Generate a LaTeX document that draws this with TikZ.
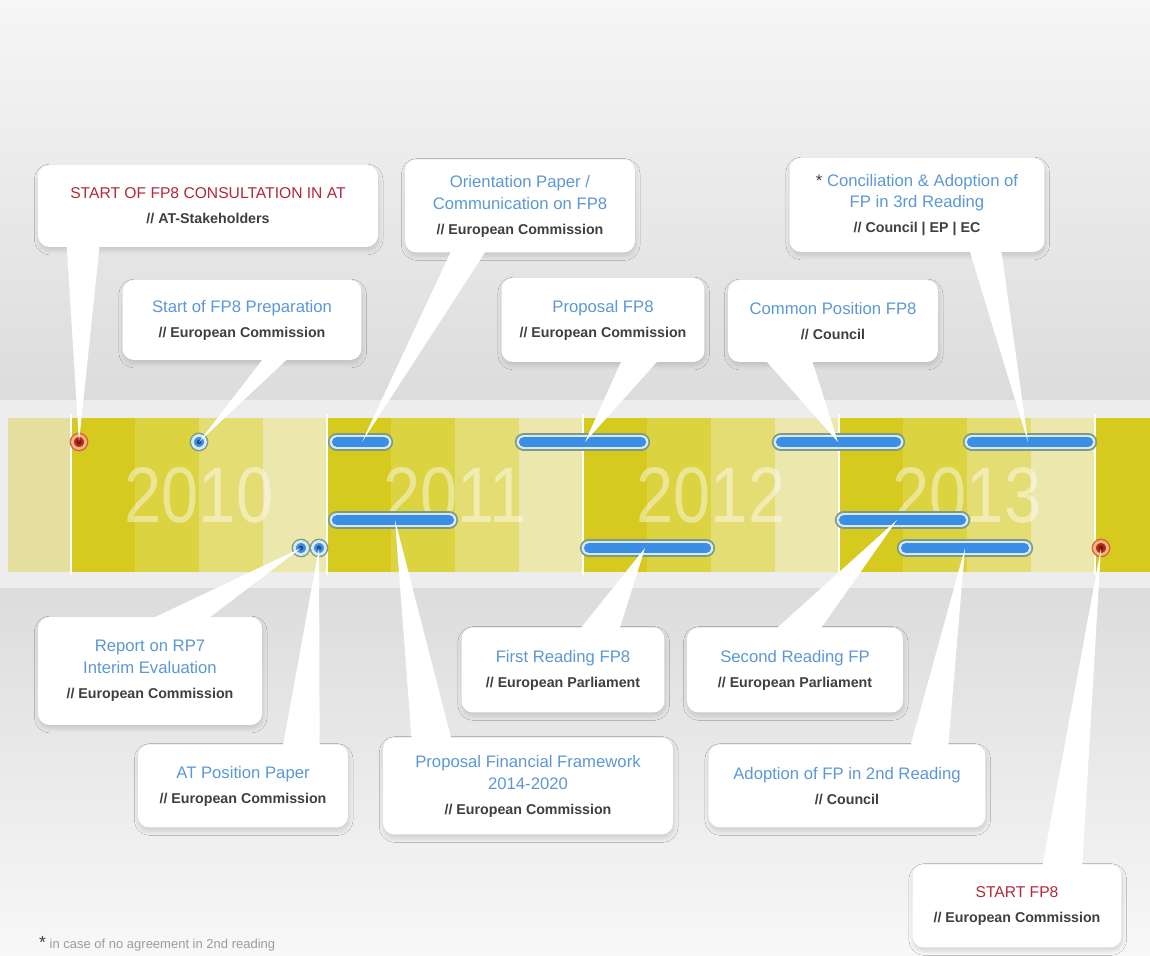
\documentclass[tikz,border=0pt]{standalone}
\usepackage{fontspec}
\setmainfont{Liberation Sans}
\usepackage{graphicx}
\usetikzlibrary{calc,shadows.blur}

\definecolor{evblue}{HTML}{5B98D6}
\definecolor{evred}{HTML}{B3283C}
\definecolor{subgray}{HTML}{3F3F3F}
\definecolor{footgray}{HTML}{9C9C9C}
\definecolor{bgtop}{HTML}{F6F6F6}
\definecolor{bgmid}{HTML}{DCDCDC}
\definecolor{bgbot}{HTML}{F8F8F8}
\definecolor{strip}{HTML}{EDEDED}
\definecolor{quarterA}{HTML}{D6CA1E}
\definecolor{quarterB}{HTML}{DCD340}
\definecolor{quarterC}{HTML}{E4DD74}
\definecolor{quarterD}{HTML}{ECE7AC}
\definecolor{paleyellow}{HTML}{E4DF9F}
\definecolor{barblue}{HTML}{3A8EE6}
\definecolor{barpale}{HTML}{D6EAF0}
\definecolor{barrim}{HTML}{7E9A87}
\definecolor{dotred}{HTML}{B52A14}
\definecolor{dotpale}{HTML}{F2B48C}
\definecolor{dotrim}{HTML}{D9642E}

\newcommand{\evsub}{\fontsize{8.1}{12.5}\selectfont\bfseries\color{subgray}}

\tikzset{
  evbox/.style={rectangle, rounded corners=6.5pt, fill=white, inner sep=0pt, align=center,
    font=\fontsize{9.5}{12.5}\selectfont, text=evblue,
    blur shadow={shadow blur steps=8, shadow xshift=0.4pt, shadow yshift=-2pt,
      shadow blur radius=2.5pt, shadow opacity=14}},
  wedge/.style={fill=white},
  fpbar/.style={line cap=round, line width=5.8pt, draw=barblue,
    preaction={draw=barrim, line width=10.4pt, line cap=round},
    preaction={draw=barpale, line width=8.4pt, line cap=round}},
  bluedot/.style={circle, inner sep=0pt, minimum size=0.26cm, fill=barblue, draw=barpale,
    line width=1.6pt, preaction={draw=barrim, line width=3.2pt},
    path picture={\fill[barblue!55!black] (path picture bounding box.center) circle (1.3pt);}},
  reddot/.style={circle, inner sep=0pt, minimum size=0.26cm, fill=dotred, draw=dotpale,
    line width=1.6pt, preaction={draw=dotrim, line width=3.2pt},
    path picture={\fill[dotred!60!black] (path picture bounding box.center) circle (1.3pt);}},
  yearlbl/.style={text=white, text opacity=0.45, font=\fontsize{38}{38}\selectfont}
}

\begin{document}
\begin{tikzpicture}[x=0.02cm, y=-0.02cm]
\useasboundingbox (0,0) rectangle (1150,956);

% Background
\shade[top color=bgtop, bottom color=bgmid] (0,0) rectangle (1150,400);
\fill[strip] (0,400) rectangle (1150,588);
\shade[top color=bgmid, bottom color=bgbot] (0,588) rectangle (1150,956);

% Timeline band
\fill[paleyellow] (8,418) rectangle (71,572);
\fill[quarterA] (1095,418) rectangle (1150,572);
\foreach \s/\yr in {71/2010, 327/2011, 583/2012, 839/2013} {
  \fill[quarterA] (\s,418) rectangle ++(64,154);
  \fill[quarterB] (\s+64,418) rectangle ++(64,154);
  \fill[quarterC] (\s+128,418) rectangle ++(64,154);
  \fill[quarterD] (\s+192,418) rectangle ++(64,154);
  \node[yearlbl] (y\yr) at (\s+128,495) {\scalebox{1}[1.18]{\yr}};
}
\foreach \s in {71,327,583,839,1095}
  \draw[white, line width=1.4pt] (\s,414) -- (\s,575);

% Bars
\draw[fpbar] (337,442) -- (384,442);   % orientation paper
\draw[fpbar] (337,520) -- (449,520);   % financial framework
\draw[fpbar] (524,442) -- (641,442);   % proposal FP8
\draw[fpbar] (589,548) -- (706,548);   % first reading
\draw[fpbar] (781,442) -- (896,442);   % common position
\draw[fpbar] (844,520) -- (961,520);   % second reading
\draw[fpbar] (972,442) -- (1088,442);  % conciliation
\draw[fpbar] (906,548) -- (1024,548);  % adoption 2nd reading
\coordinate (aOrient) at (362,442);
\coordinate (aFinfw) at (395,520);
\coordinate (aPropFP) at (585,442);
\coordinate (aFirst) at (645,548);
\coordinate (aCommon) at (838,442);
\coordinate (aSecond) at (897,520);
\coordinate (aConcil) at (1028,442);
\coordinate (aAdopt) at (965,548);

% Dots
\node[reddot] (dConsult) at (79,442) {};
\node[bluedot] (dPrep) at (199,442) {};
\node[bluedot] (dReport) at (301,548) {};
\node[bluedot] (dATpos) at (319,548) {};
\node[reddot] (dStart) at (1101,548) {};

% Boxes above the band
\node[evbox, text=evred, font=\fontsize{8.9}{12.5}\selectfont, minimum width=6.8cm, minimum height=1.64cm] (consult) at (208,206)
  {START OF FP8 CONSULTATION IN AT\\[1.7pt]{\evsub // AT-Stakeholders}};
\node[evbox, minimum width=4.78cm, minimum height=1.6cm] (prep) at (242,320)
  {Start of FP8 Preparation\\[1.7pt]{\evsub // European Commission}};
\node[evbox, minimum width=4.6cm, minimum height=1.86cm] (orient) at (520,206)
  {Orientation Paper /\\Communication on FP8\\[1.7pt]{\evsub // European Commission}};
\node[evbox, minimum width=4.06cm, minimum height=1.68cm] (propFP) at (603,320)
  {Proposal FP8\\[1.7pt]{\evsub // European Commission}};
\node[evbox, minimum width=4.2cm, minimum height=1.64cm] (common) at (833,321)
  {Common Position FP8\\[1.7pt]{\evsub // Council}};
\node[evbox, minimum width=5.1cm, minimum height=1.88cm] (concil) at (917,205)
  {{\color{subgray}*} Conciliation \& Adoption of\\FP in 3rd Reading\\[1.7pt]{\evsub // Council | EP | EC}};

% Boxes below the band
\node[evbox, minimum width=4.48cm, minimum height=2.16cm] (report) at (150,671)
  {Report on RP7\\Interim Evaluation\\[1.7pt]{\evsub // European Commission}};
\node[evbox, minimum width=4.2cm, minimum height=1.66cm] (atpos) at (243,786)
  {AT Position Paper\\[1.7pt]{\evsub // European Commission}};
\node[evbox, minimum width=5.8cm, minimum height=1.94cm] (finfw) at (528,786)
  {Proposal Financial Framework\\2014-2020\\[1.7pt]{\evsub // European Commission}};
\node[evbox, minimum width=4.06cm, minimum height=1.7cm] (first) at (563,670)
  {First Reading FP8\\[1.7pt]{\evsub // European Parliament}};
\node[evbox, minimum width=4.32cm, minimum height=1.7cm] (second) at (795,670)
  {Second Reading FP\\[1.7pt]{\evsub // European Parliament}};
\node[evbox, minimum width=5.54cm, minimum height=1.66cm] (adopt) at (847,786)
  {Adoption of FP in 2nd Reading\\[1.7pt]{\evsub // Council}};
\node[evbox, text=evred, font=\fontsize{8.9}{12.5}\selectfont, minimum width=4.18cm, minimum height=1.66cm] (start) at (1017,906)
  {START FP8\\[1.7pt]{\evsub // European Commission}};

% Callout wedges
\fill[wedge] ($(consult.south west)+(29,-3)$) -- (dConsult.center) -- ($(consult.south west)+(62,-3)$) -- cycle;
\fill[wedge] ($(prep.south west)+(142,-3)$) -- (dPrep.center) -- ($(prep.south west)+(167,-3)$) -- cycle;
\fill[wedge] ($(orient.south west)+(47,-3)$) -- (aOrient) -- ($(orient.south west)+(82,-3)$) -- cycle;
\fill[wedge] ($(propFP.south west)+(121,-3)$) -- (aPropFP) -- ($(propFP.south west)+(158,-3)$) -- cycle;
\fill[wedge] ($(common.south west)+(37,-3)$) -- (aCommon) -- ($(common.south west)+(84,-3)$) -- cycle;
\fill[wedge] ($(concil.south west)+(180,-3)$) -- (aConcil) -- ($(concil.south west)+(212,-3)$) -- cycle;
\fill[wedge] ($(report.north west)+(112,3)$) -- (dReport.center) -- ($(report.north west)+(169,3)$) -- cycle;
\fill[wedge] ($(atpos.north west)+(145,3)$) -- (dATpos.center) -- ($(atpos.north west)+(182,3)$) -- cycle;
\fill[wedge] ($(finfw.north west)+(29,3)$) -- (aFinfw) -- ($(finfw.north west)+(69,3)$) -- cycle;
\fill[wedge] ($(first.north west)+(118,3)$) -- (aFirst) -- ($(first.north west)+(158,3)$) -- cycle;
\fill[wedge] ($(second.north west)+(88,3)$) -- (aSecond) -- ($(second.north west)+(133,3)$) -- cycle;
\fill[wedge] ($(adopt.north west)+(202,3)$) -- (aAdopt) -- ($(adopt.north west)+(240,3)$) -- cycle;
\fill[wedge] ($(start.north west)+(130,3)$) -- (dStart.center) -- ($(start.north west)+(170,3)$) -- cycle;

% Footnote
\node[anchor=west, text=footgray, font=\fontsize{7.4}{9}\selectfont] (note) at (33,944)
  {{\fontsize{10}{10}\selectfont\color{subgray}*} in case of no agreement in 2nd reading};
\end{tikzpicture}
\end{document}
